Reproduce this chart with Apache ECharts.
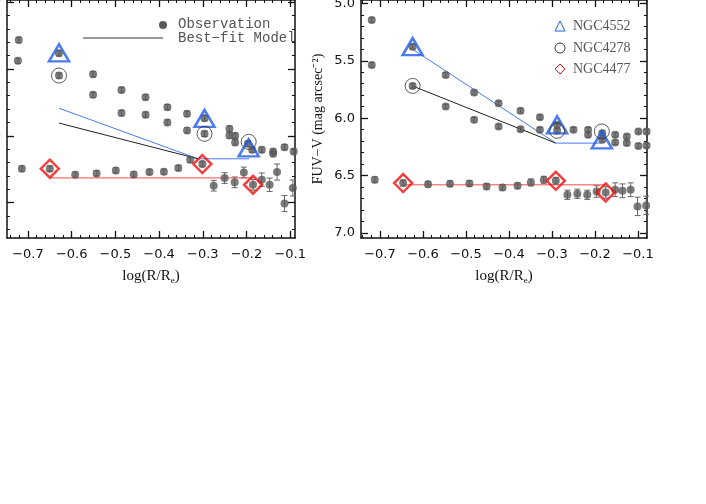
<!DOCTYPE html>
<html><head><meta charset="utf-8">
<script src="https://cdn.jsdelivr.net/npm/echarts@6/dist/echarts.min.js"></script>
<style>html,body{margin:0;background:#fff}#c{width:706px;height:504px}</style>
</head><body><div id="c"></div>
<script>
// left panel (NUV-V)
const lUpX = [-0.721,-0.723,-0.629,-0.629,-0.551,-0.551,-0.486,-0.486,-0.431,-0.431,-0.381,-0.381,-0.336,-0.336,-0.296,-0.296,-0.239,-0.239,-0.226,-0.226,-0.197,-0.187,-0.165,-0.139,-0.139,-0.113,-0.092];
const lUpY = [3.284,3.44,3.383,3.55,3.54,3.694,3.657,3.83,3.711,3.843,3.786,3.90,3.836,3.96,3.868,3.985,3.948,3.998,4.0,4.05,4.06,4.104,4.104,4.117,4.134,4.085,4.117];
const lLoX = [-0.714,-0.650,-0.592,-0.543,-0.499,-0.458,-0.422,-0.389,-0.356,-0.329,-0.301,-0.275,-0.250,-0.227,-0.206,-0.185,-0.165,-0.147,-0.130,-0.113,-0.094];
const lLoY = [4.246,4.246,4.291,4.281,4.259,4.289,4.271,4.269,4.241,4.179,4.211,4.373,4.316,4.348,4.274,4.366,4.328,4.366,4.271,4.507,4.39];
const lLoErr = [0.02,0.02,0.02,0.02,0.02,0.02,0.02,0.02,0.02,0.02,0.02,0.04,0.04,0.04,0.04,0.04,0.05,0.05,0.06,0.06,0.06];
const lTriX = [-0.629,-0.296,-0.195], lTriY = [3.38,3.87,4.09];
const lCirX = [-0.629,-0.296,-0.195], lCirY = [3.55,3.985,4.045];
const lDiaX = [-0.650,-0.301,-0.185], lDiaY = [4.246,4.211,4.366];
const lBlueX = [-0.629,-0.311,-0.194], lBlueY = [3.794,4.172,4.172];
const lBlackX = [-0.629,-0.311], lBlackY = [3.905,4.172];
const lRedX = [-0.650,-0.185], lRedY = [4.315,4.315];

// right panel (FUV-V)
const rUpX = [-0.719,-0.719,-0.624,-0.624,-0.547,-0.547,-0.481,-0.481,-0.424,-0.424,-0.373,-0.373,-0.328,-0.328,-0.288,-0.288,-0.250,-0.216,-0.216,-0.183,-0.183,-0.153,-0.153,-0.126,-0.126,-0.099,-0.099,-0.080,-0.080];
const rUpY = [5.145,5.536,5.377,5.719,5.623,5.899,5.777,6.014,5.870,6.072,5.936,6.096,5.991,6.101,6.058,6.110,6.101,6.101,6.145,6.130,6.188,6.145,6.212,6.159,6.217,6.116,6.241,6.116,6.238];
const rLoX = [-0.712,-0.646,-0.588,-0.537,-0.492,-0.452,-0.415,-0.380,-0.349,-0.319,-0.291,-0.264,-0.241,-0.218,-0.196,-0.175,-0.153,-0.136,-0.117,-0.101,-0.081];
const rLoY = [6.536,6.565,6.574,6.571,6.568,6.594,6.603,6.588,6.559,6.536,6.545,6.667,6.658,6.667,6.638,6.646,6.623,6.632,6.623,6.768,6.759];
const rLoErr = [0.025,0.025,0.025,0.025,0.025,0.025,0.025,0.025,0.03,0.03,0.03,0.04,0.04,0.04,0.05,0.05,0.06,0.06,0.06,0.08,0.08];
const rTriX = [-0.624,-0.288,-0.184], rTriY = [5.377,6.058,6.188];
const rCirX = [-0.624,-0.288,-0.184], rCirY = [5.719,6.11,6.115];
const rDiaX = [-0.646,-0.291,-0.175], rDiaY = [6.565,6.545,6.646];
const rBlueX = [-0.624,-0.291,-0.184], rBlueY = [5.40,6.217,6.217];
const rBlackX = [-0.624,-0.291], rBlackY = [5.72,6.217];
const rRedX = [-0.646,-0.175], rRedY = [6.58,6.58];

const xMajor = [-0.7,-0.6,-0.5,-0.4,-0.3,-0.2,-0.1];
const lYMajor = [3.0,3.5,4.0,4.5];
const rYMajor = [5.0,5.5,6.0,6.5,7.0];
const upErr = 0.02;

const pairs = (xs, ys) => xs.map((x, i) => [x, ys[i]]);
const range = (a, b, s) => { const r = []; for (let v = a; v <= b + 1e-9; v += s) r.push(+v.toFixed(3)); return r; };
const font = 'DejaVu Sans';
const ink = '#111';

const xAxes = [], yAxes = [];
function boxAxes(grid, xmin, xmax, ymin, ymax, yMaj, yName) {
  const common = { gridIndex: grid, splitLine: { show: false } };
  const xi = xAxes.length;
  [['bottom', true], ['top', false]].forEach(([pos, lab]) => {
    xAxes.push({ ...common, type: 'value', position: pos, min: xmin, max: xmax,
      axisLine: { lineStyle: { color: ink, width: 1.5 } },
      axisTick: { inside: true, length: 7, customValues: xMajor, lineStyle: { color: ink, width: 1.3 } },
      axisLabel: lab ? { customValues: xMajor, color: ink, fontFamily: font, fontSize: 13, margin: 10, formatter: v => v.toFixed(1).replace('-', '\u2212') } : { show: false },
      name: lab ? '{a|log(R/R}{s|e}{a|)}' : '', nameLocation: 'middle', nameGap: 30,
      nameTextStyle: { rich: { a: { fontFamily: 'Liberation Serif', fontSize: 15, color: ink }, s: { fontFamily: 'Liberation Serif', fontSize: 9, color: ink, padding: [8, 0, 0, 0] } } } });
    xAxes.push({ ...common, type: 'value', position: pos, min: xmin, max: xmax,
      axisLine: { show: false }, axisLabel: { show: false },
      axisTick: { inside: true, length: 3, customValues: range(-0.74, -0.08, 0.02), lineStyle: { color: ink } } });
  });
  const yi = yAxes.length;
  [['left', true], ['right', false]].forEach(([pos, lab]) => {
    yAxes.push({ ...common, type: 'value', position: pos, inverse: true, min: ymin, max: ymax,
      axisLine: { lineStyle: { color: ink, width: 1.5 } },
      axisTick: { inside: true, length: 7, customValues: yMaj, lineStyle: { color: ink, width: 1.3 } },
      axisLabel: lab ? { customValues: yMaj, color: ink, fontFamily: font, fontSize: 13, margin: 6, formatter: v => v.toFixed(1) } : { show: false },
      name: lab ? yName : '', nameLocation: 'middle', nameGap: 36,
      nameTextStyle: { fontFamily: 'Liberation Serif', fontSize: 14, color: ink } });
    yAxes.push({ ...common, type: 'value', position: pos, inverse: true, min: ymin, max: ymax,
      axisLine: { show: false }, axisLabel: { show: false },
      axisTick: { inside: true, length: 3, customValues: range(Math.ceil(ymin * 10) / 10, ymax, 0.1), lineStyle: { color: ink } } });
  });
  return [xi, yi];
}
const [lx, ly] = boxAxes(0, -0.748, -0.089, 2.985, 4.764, lYMajor, 'NUV\u2212V (mag arcsec\u207B\u00B2)');
const [rx, ry] = boxAxes(1, -0.744, -0.079, 4.971, 7.043, rYMajor, 'FUV\u2212V (mag arcsec\u207B\u00B2)');

function errBars(xi, yi, xs, ys, errs) {
  return { type: 'custom', xAxisIndex: xi, yAxisIndex: yi, z: 2,
    data: xs.map((x, i) => [x, ys[i], errs[i]]),
    renderItem: (p, api) => {
      const a = api.coord([api.value(0), api.value(1) - api.value(2)]);
      const b = api.coord([api.value(0), api.value(1) + api.value(2)]);
      const st = { stroke: '#666', lineWidth: 1 };
      return { type: 'group', children: [
        { type: 'line', shape: { x1: a[0], y1: a[1], x2: b[0], y2: b[1] }, style: st },
        { type: 'line', shape: { x1: a[0] - 3, y1: a[1], x2: a[0] + 3, y2: a[1] }, style: st },
        { type: 'line', shape: { x1: b[0] - 3, y1: b[1], x2: b[0] + 3, y2: b[1] }, style: st } ] };
    } };
}
const dots = (xi, yi, d) => ({ type: 'scatter', xAxisIndex: xi, yAxisIndex: yi, data: d, symbolSize: 8, itemStyle: { color: '#5a5a5a' }, z: 3, silent: true });
const mark = (xi, yi, d, sym, size, col, w) => ({ type: 'scatter', xAxisIndex: xi, yAxisIndex: yi, data: d, symbol: sym, symbolSize: size,
  itemStyle: { color: 'transparent', borderColor: col, borderWidth: w }, z: 4, silent: true });
const line = (xi, yi, d, col) => ({ type: 'line', xAxisIndex: xi, yAxisIndex: yi, data: d, symbol: 'none', lineStyle: { color: col, width: 1 }, z: 2, silent: true });

function panel(xi, yi, upX, upY, loX, loY, loErr, tri, cir, dia, blue, black, red) {
  return [
    errBars(xi, yi, upX, upY, upX.map(() => upErr)),
    errBars(xi, yi, loX, loY, loErr),
    line(xi, yi, blue, '#4a7bf0'), line(xi, yi, black, '#222'), line(xi, yi, red, '#ff4a4a'),
    dots(xi, yi, pairs(upX, upY)), dots(xi, yi, pairs(loX, loY)),
    mark(xi, yi, tri, 'triangle', [20, 17], '#1f5be6', 2.5),
    mark(xi, yi, cir, 'circle', 15, '#333', 1),
    mark(xi, yi, dia, 'diamond', [18, 18], '#ee1111', 2.5)
  ];
}

const chart = echarts.init(document.getElementById('c'));
chart.setOption({
  animation: false,
  grid: [
    { left: 7, top: 0, width: 288, height: 238, containLabel: false, outerBoundsMode: 'none' },
    { left: 361, top: 0, width: 286, height: 238, containLabel: false, outerBoundsMode: 'none' }
  ],
  xAxis: xAxes, yAxis: yAxes,
  series: [
    ...panel(lx, ly, lUpX, lUpY, lLoX, lLoY, lLoErr, pairs(lTriX, lTriY), pairs(lCirX, lCirY), pairs(lDiaX, lDiaY),
      pairs(lBlueX, lBlueY), pairs(lBlackX, lBlackY), pairs(lRedX, lRedY)),
    ...panel(rx, ry, rUpX, rUpY, rLoX, rLoY, rLoErr, pairs(rTriX, rTriY), pairs(rCirX, rCirY), pairs(rDiaX, rDiaY),
      pairs(rBlueX, rBlueY), pairs(rBlackX, rBlackY), pairs(rRedX, rRedY))
  ],
  graphic: [
    { type: 'circle', shape: { cx: 163, cy: 25, r: 4 }, style: { fill: '#5a5a5a' } },
    { type: 'text', left: 178, top: 17, style: { text: 'Observation', font: '14px "Liberation Mono"', fill: '#555' } },
    { type: 'line', shape: { x1: 83, y1: 38, x2: 163, y2: 38 }, style: { stroke: '#333', lineWidth: 1 } },
    { type: 'text', left: 178, top: 31, style: { text: 'Best\u2212fit Model', font: '14px "Liberation Mono"', fill: '#555' } },
    { type: 'polygon', shape: { points: [[560, 21], [555, 31], [565, 31]] }, style: { fill: 'none', stroke: '#1f5be6', lineWidth: 1 } },
    { type: 'text', left: 573, top: 19, style: { text: 'NGC4552', font: '14px "Liberation Serif"', fill: '#555' } },
    { type: 'circle', shape: { cx: 560, cy: 48, r: 5 }, style: { fill: 'none', stroke: '#333', lineWidth: 1 } },
    { type: 'text', left: 573, top: 41, style: { text: 'NGC4278', font: '14px "Liberation Serif"', fill: '#555' } },
    { type: 'polygon', shape: { points: [[560, 64], [565, 69], [560, 74], [555, 69]] }, style: { fill: 'none', stroke: '#ee1111', lineWidth: 1 } },
    { type: 'text', left: 573, top: 62, style: { text: 'NGC4477', font: '14px "Liberation Serif"', fill: '#555' } }
  ]
});
</script>
</body></html>
